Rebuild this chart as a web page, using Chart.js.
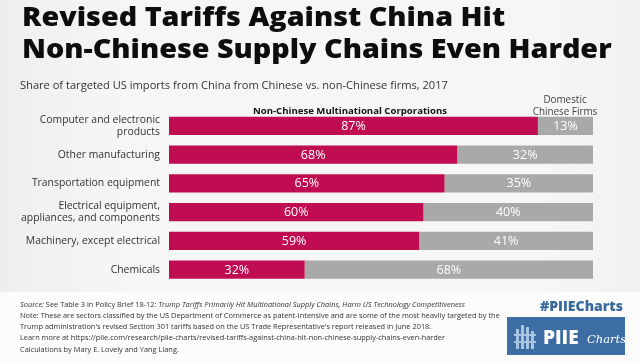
<!DOCTYPE html>
<html><head><meta charset="utf-8">
<script src="https://cdn.jsdelivr.net/npm/chart.js@4"></script>
<style>
html,body{margin:0;padding:0;}
body{width:640px;height:363px;overflow:hidden;position:relative;background:#f3f3f3;font-family:"Open Sans",sans-serif;}
#main{position:absolute;left:0;top:0;width:640px;height:292px;background:linear-gradient(90deg,#eeeeee 0%,#f6f6f6 20%,#f6f6f6 85%,#f1f1f1 100%);}
#foot{position:absolute;left:0;top:292px;width:640px;height:71px;background:#fcfcfc;}
canvas{position:absolute;left:0;top:0;}
.t{position:absolute;white-space:nowrap;}
#title{left:21.5px;top:-0.4px;font-family:"Open Sans";font-weight:800;font-size:26px;line-height:32.5px;color:#0d0d0d;transform:scaleX(1.105);transform-origin:0 0;}
#title span{display:block;}
#sub{left:20px;top:77px;font-size:11.1px;color:#333;}
#lg1{left:252px;top:103.5px;width:196px;text-align:center;font-size:9.6px;font-weight:700;color:#111;}
#lg2{left:525px;top:93px;width:80px;text-align:center;font-size:9.9px;line-height:12px;color:#444;}
#notes{left:20px;top:298.5px;font-size:7.4px;line-height:11.3px;color:#333;}
#tag{left:540px;top:296px;font-size:14px;font-weight:800;color:#3a6a9b;}
#logo{position:absolute;left:507px;top:317px;width:118px;height:38px;background:#3c6ea3;}
</style></head><body>
<div id="main"></div><div id="foot"></div>
<canvas id="c" width="640" height="363"></canvas>
<div class="t" id="title"><span>Revised Tariffs Against China Hit</span><span>Non-Chinese Supply Chains Even Harder</span></div>
<div class="t" id="sub">Share of targeted US imports from China from Chinese vs. non-Chinese firms, 2017</div>
<div class="t" id="lg1">Non-Chinese Multinational Corporations</div>
<div class="t" id="lg2">Domestic<br>Chinese Firms</div>
<div class="t" id="notes"><i>Source:</i> See Table 3 in Policy Brief 18-12: <i>Trump Tariffs Primarily Hit Multinational Supply Chains, Harm US Technology Competitiveness</i><br>Note: These are sectors classified by the US Department of Commerce as patent-intensive and are some of the most heavily targeted by the<br>Trump administration's revised Section 301 tariffs based on the US Trade Representative's report released in June 2018.<br>Learn more at https://piie.com/research/piie-charts/revised-tariffs-against-china-hit-non-chinese-supply-chains-even-harder<br>Calculations by Mary E. Lovely and Yang Liang.</div>
<div class="t" id="tag">#PIIECharts</div>
<div id="logo">
<svg width="118" height="38" style="position:absolute;left:0;top:0">
<g fill="#a9c4e0">
<rect x="9" y="12" width="3" height="20"/><rect x="14" y="8" width="3" height="24"/><rect x="19" y="10" width="3" height="22"/><rect x="24" y="14" width="3" height="18"/>
<rect x="7" y="17" width="22" height="2"/><rect x="7" y="24" width="22" height="2"/>
</g>
<text x="36" y="27" fill="#fff" font-family="Open Sans" font-weight="800" font-size="19">PIIE</text>
<text x="80" y="26" fill="#fff" font-family="DejaVu Serif, Liberation Serif, serif" font-style="italic" font-size="11.5">Charts</text>
</svg>
</div>
<script>
const categories = [["Computer and electronic","products"],"Other manufacturing","Transportation equipment",["Electrical equipment,","appliances, and components"],"Machinery, except electrical","Chemicals"];
const nonChinese = [87,68,65,60,59,32];
const domestic = [13,32,35,40,41,68];
const seriesNames = ["Non-Chinese Multinational Corporations","Domestic Chinese Firms"];

const labelPlugin = {
  id:'vals',
  afterDatasetsDraw(chart){
    const ctx = chart.ctx;
    ctx.save();
    ctx.fillStyle = '#ffffff';
    ctx.font = '500 12.5px "Open Sans"';
    ctx.textAlign = 'center';
    ctx.textBaseline = 'middle';
    chart.data.datasets.forEach((ds,di)=>{
      chart.getDatasetMeta(di).data.forEach((el,i)=>{
        ctx.fillText(ds.data[i]+'%', (el.x+el.base)/2, el.y+0.5);
      });
    });
    ctx.restore();
  }
};

new Chart(document.getElementById('c'),{
  type:'bar',
  data:{labels:categories,datasets:[
    {label:seriesNames[0],data:nonChinese,backgroundColor:'#c00c50',barPercentage:0.63,categoryPercentage:1},
    {label:seriesNames[1],data:domestic,backgroundColor:'#a9a9a9',barPercentage:0.63,categoryPercentage:1}
  ]},
  options:{
    indexAxis:'y',responsive:false,animation:false,
    layout:{padding:{top:111.5,bottom:79,left:0,right:47}},
    plugins:{legend:{display:false},tooltip:{enabled:false}},
    scales:{
      x:{display:false,stacked:true,min:0,max:100},
      y:{stacked:true,grid:{display:false,drawTicks:false},border:{display:false},
        afterFit(s){s.width=169;},
        ticks:{padding:9,autoSkip:false,color:'#333',font:{family:'Open Sans',size:10.4,lineHeight:1.15}}}
    }
  },
  plugins:[labelPlugin]
});
</script>
</body></html>
